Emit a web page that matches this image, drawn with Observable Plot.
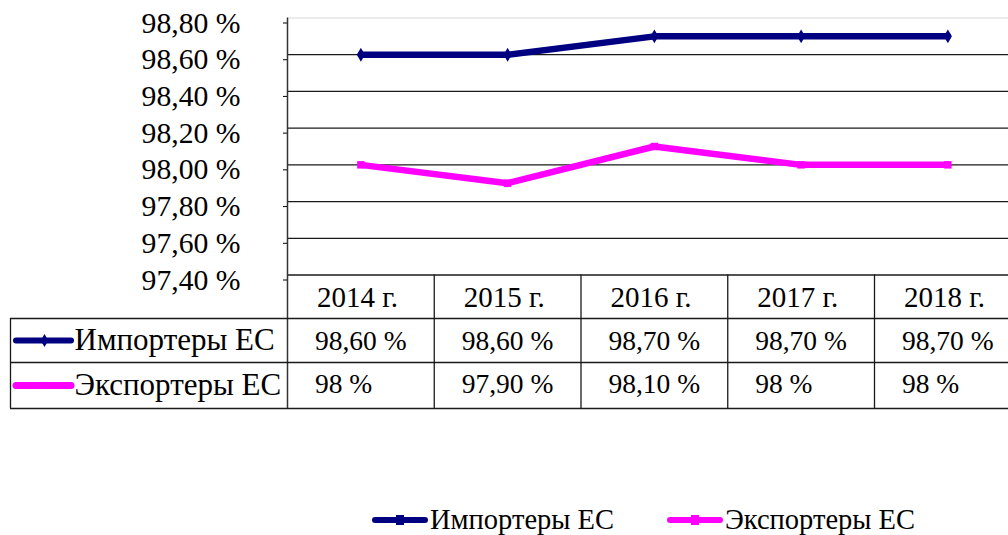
<!DOCTYPE html>
<html><head><meta charset="utf-8">
<script src="https://cdn.jsdelivr.net/npm/d3@7"></script>
<script src="https://cdn.jsdelivr.net/npm/@observablehq/plot@0.6"></script>
<style>
html,body{margin:0;padding:0;background:#fff;overflow:hidden}
body{width:1008px;height:535px;font-family:"Liberation Serif","Times New Roman",serif}
#chart svg{display:block;max-width:none}
#legend{position:relative;width:1008px;height:35px}
.li{position:absolute;top:0;height:28px;line-height:28px;display:flex;align-items:center;font-size:28.5px;color:#000;white-space:nowrap}
.sw{width:56px;height:6px;border-radius:3px;position:relative;margin-right:2px}
.sw i{position:absolute;left:24px;top:-2px;width:8px;height:10px}
</style></head><body>
<div id="chart"></div>
<div id="legend"></div>
<script>
// ---- data ----
const years = [2014, 2015, 2016, 2017, 2018];
const yearLabels = ["2014 г.", "2015 г.", "2016 г.", "2017 г.", "2018 г."];
const seriesNames = ["Импортеры ЕС", "Экспортеры ЕС"];
const importers = [98.6, 98.6, 98.7, 98.7, 98.7];
const exporters = [98.0, 97.9, 98.1, 98.0, 98.0];
const importerLabels = ["98,60 %", "98,60 %", "98,70 %", "98,70 %", "98,70 %"];
const exporterLabels = ["98 %", "97,90 %", "98,10 %", "98 %", "98 %"];
const yTicks = [97.4, 97.6, 97.8, 98.0, 98.2, 98.4, 98.6, 98.8];
const yTickLabels = ["97,40 %", "97,60 %", "97,80 %", "98,00 %", "98,20 %", "98,40 %", "98,60 %", "98,80 %"];
const seriesColors = ["#000080", "#FF00FF"];

// ---- layout ----
const W = 1008, H = 500;
const plotTop = 17.5, plotBottom = 274.5, plotLeft = 287, bandPx = 146.75;
const yMin = 97.4, yMax = 98.8;
const unitPerPx = (yMax - yMin) / (plotBottom - plotTop);
const yAt = px => yMax - (px - plotTop) * unitPerPx;
const xAt = px => years[0] - 0.5 + (px - plotLeft) / bandPx;
const xEnd = xAt(W);
const rowH = [318, 362, 408];

const tidy = [];
years.forEach((yr, i) => {
  tidy.push({year: yr, value: importers[i], series: seriesNames[0]});
  tidy.push({year: yr, value: exporters[i], series: seriesNames[1]});
});
const imp = tidy.filter(d => d.series === seriesNames[0]);
const exp = tidy.filter(d => d.series === seriesNames[1]);

const font = "'Liberation Serif', 'Times New Roman', serif";
const boundaries = d3.range(years.length + 1).map(k => years[0] - 0.5 + k).filter(v => v <= xEnd);

const chart = Plot.plot({
  width: W, height: H,
  marginTop: plotTop, marginBottom: H - plotBottom, marginLeft: plotLeft, marginRight: 0,
  style: {fontFamily: font, background: "#fff", color: "#000", overflow: "visible"},
  x: {domain: [years[0] - 0.5, xEnd], axis: null},
  y: {domain: [yMin, yMax], axis: null},
  color: {domain: seriesNames, range: seriesColors},
  marks: [
    // gridlines
    Plot.ruleY([yMax], {x1: years[0] - 0.5, x2: xEnd, stroke: "#d8d8d8", strokeWidth: 1}),
    Plot.ruleY(yTicks.filter(d => d < yMax), {x1: years[0] - 0.5, x2: xEnd, stroke: "#1a1a1a", strokeWidth: 1.3}),
    // y axis
    Plot.axisY(yTicks, {anchor: "left", label: null, tickSize: 4, tickPadding: 43, fontSize: 29.7, dy: 5,
      tickFormat: d => yTickLabels[yTicks.indexOf(d)], stroke: "#000"}),
    Plot.ruleX([years[0] - 0.5], {y1: yMax, y2: yAt(rowH[2]), stroke: "#333", strokeWidth: 1.5}),
    // data table lines
    Plot.ruleY(rowH.map(yAt), {x1: xAt(10), x2: xEnd, stroke: "#1a1a1a", strokeWidth: 1.3}),
    Plot.ruleX(boundaries.slice(1), {y1: yMin, y2: yAt(rowH[2]), stroke: "#1a1a1a", strokeWidth: 1.3}),
    Plot.ruleX([xAt(10)], {y1: yAt(rowH[0]), y2: yAt(rowH[2]), stroke: "#1a1a1a", strokeWidth: 1.3}),
    // header
    Plot.text(years, {x: d => d, y: yAt(297), text: (d, i) => yearLabels[i], textAnchor: "start", dx: -44, fontSize: 29, fill: "#000"}),
    // values
    Plot.text(years, {x: d => d, y: yAt(341), text: (d, i) => importerLabels[i], textAnchor: "start", dx: -46, fontSize: 27.5, fill: "#000"}),
    Plot.text(years, {x: d => d, y: yAt(384), text: (d, i) => exporterLabels[i], textAnchor: "start", dx: -46, fontSize: 27.5, fill: "#000"}),
    // row labels with swatches
    Plot.ruleY([yAt(340)], {x1: xAt(16), x2: xAt(71), stroke: seriesColors[0], strokeWidth: 6, strokeLinecap: "round"}),
    Plot.ruleY([yAt(385)], {x1: xAt(16), x2: xAt(71), stroke: seriesColors[1], strokeWidth: 7, strokeLinecap: "round"}),
    Plot.dot([0], {x: xAt(44), y: yAt(340), symbol: "diamond", r: 4, fill: seriesColors[0]}),
    Plot.dot([0], {x: xAt(44), y: yAt(385), symbol: "square", r: 4, fill: seriesColors[1]}),
    Plot.text(seriesNames, {x: xAt(74), y: (d, i) => yAt(i === 0 ? 340 : 385), text: d => d, textAnchor: "start", fontSize: 31, fill: "#000"}),
    // series
    Plot.line(tidy, {x: "year", y: "value", z: "series", stroke: "series", strokeWidth: 6.5, strokeLinejoin: "round"}),
    Plot.dot(imp, {x: "year", y: "value", symbol: "diamond", r: 4.2, fill: seriesColors[0]}),
    Plot.dot(exp, {x: "year", y: "value", symbol: "square", r: 4.2, fill: seriesColors[1]})
  ]
});
document.getElementById("chart").appendChild(chart);

// legend below the chart
const legend = document.getElementById("legend");
const legendX = [372, 667];
seriesNames.forEach((name, i) => {
  const item = document.createElement("div");
  item.className = "li";
  item.style.left = legendX[i] + "px";
  item.style.top = "6px";
  const sw = document.createElement("span");
  sw.className = "sw";
  sw.style.background = seriesColors[i];
  const m = document.createElement("i");
  m.style.background = seriesColors[i];
  sw.appendChild(m);
  item.appendChild(sw);
  item.appendChild(document.createTextNode(name));
  legend.appendChild(item);
});
</script>
</body></html>
